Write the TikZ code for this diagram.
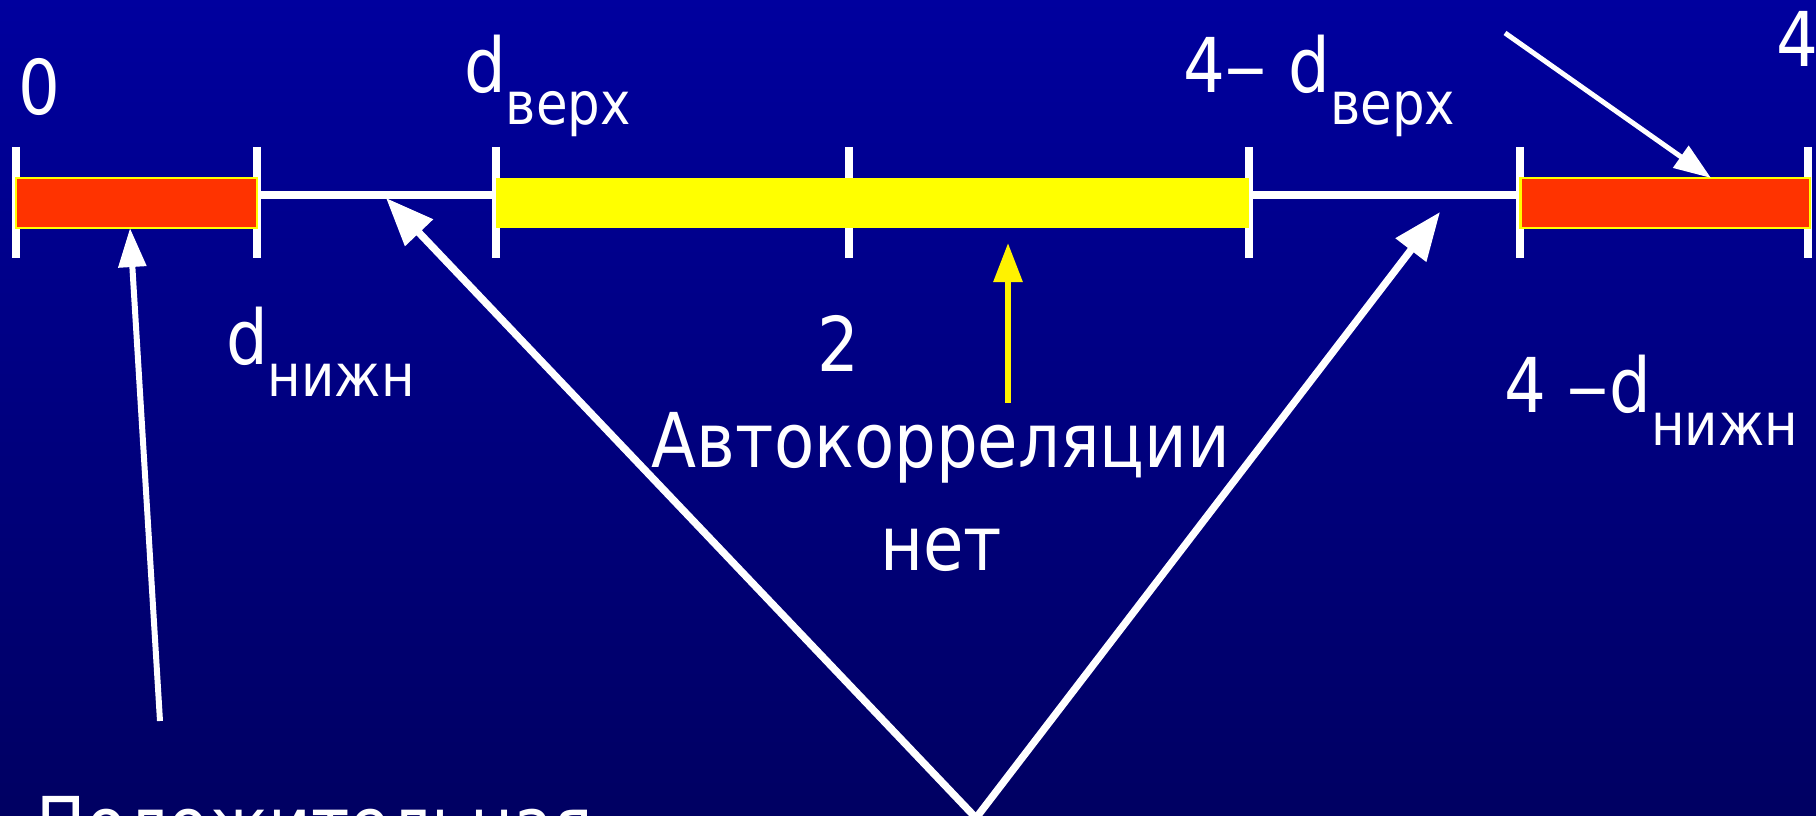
\documentclass[tikz,border=0pt]{standalone}
\usepackage{fontspec}
\setmainfont{DejaVu Sans}[FakeStretch=0.87]
\usetikzlibrary{arrows.meta}
\definecolor{slidetop}{RGB}{0,0,158}
\definecolor{slidebot}{RGB}{0,0,98}
\newcommand{\lowtxt}[1]{\raisebox{-9.1pt}{\fontsize{16.8}{18}\selectfont #1}}
\newcommand{\longdash}{\scalebox{1.3}[1]{–}}
\begin{document}
\begin{tikzpicture}[x=0.01cm,y=-0.01cm,every node/.style={inner sep=0pt, outer sep=0pt, text=white, font=\fontsize{21.5}{29.3}\selectfont},
  tickmark/.style={draw=white, line width=2.28pt},
  bar/.style={minimum height=0.5cm, anchor=center},
  arrw/.style={draw=white}]
\useasboundingbox (0,0) rectangle (1816,816);
\shade[top color=slidetop, bottom color=slidebot] (0,0) rectangle (1816,816);
\draw[white, line width=2.28pt] (16,195) -- (1808,195);
\draw[tickmark] (16,147) -- (16,258);
\draw[tickmark] (257,147) -- (257,258);
\draw[tickmark] (496,147) -- (496,258);
\draw[tickmark] (849,147) -- (849,258);
\draw[tickmark] (1249,147) -- (1249,258);
\draw[tickmark] (1520,147) -- (1520,258);
\draw[tickmark] (1808,147) -- (1808,258);
\node[bar, fill={rgb,255:red,255;green,51;blue,0}, draw={rgb,255:red,255;green,255;blue,0}, line width=0.6pt, minimum width=2.41cm] (redlow) at (136.5,203) {};
\node[bar, fill={rgb,255:red,255;green,255;blue,0}, minimum width=7.53cm] (yellowmid) at (872.5,203) {};
\node[bar, fill={rgb,255:red,255;green,51;blue,0}, draw={rgb,255:red,255;green,255;blue,0}, line width=0.6pt, minimum width=2.89cm] (redhigh) at (1665,203) {};
\node[anchor=base] (zero) at (39,115) {0};
\node[anchor=base west] (dup) at (464,93) {d\lowtxt{верх}};
\node[anchor=base west] (fourdup) at (1183,93) {4\longdash{} d\lowtxt{верх}};
\node[anchor=base west] (four) at (1776,67) {4};
\node[anchor=base west] (dlow) at (226,365) {d\lowtxt{нижн}};
\node[anchor=base] (two) at (838,372) {2};
\node[anchor=base west] (fourdlow) at (1504,413) {4 \longdash{}d\lowtxt{нижн}};
\node[anchor=north, align=center] (noauto) at (941,412) {Автокорреляции\\нет};
\node[anchor=base west] (posauto) at (37,851) {Положительная};
\coordinate (postail) at (160,721);
\coordinate (postip) at (130,228);
\coordinate (vbottom) at (976,818);
\coordinate (gaplow) at (386,198);
\coordinate (gaphigh) at (1440,212);
\coordinate (toptail) at (1505,33);
\coordinate (toptip) at (1711,178);
\coordinate (ytail) at (1008,403);
\coordinate (ytip) at (1008,243);
\draw[arrw, line width=1.7pt, -{Triangle[length=0.39cm,width=0.27cm]}] (postail) -- (postip);
\draw[arrw, line width=2.1pt, -{Triangle[length=0.48cm,width=0.37cm]}] (vbottom) -- (gaplow);
\draw[arrw, line width=2.1pt, -{Triangle[length=0.48cm,width=0.37cm]}] (vbottom) -- (gaphigh);
\draw[arrw, line width=1.42pt, -{Triangle[length=0.37cm,width=0.26cm]}] (toptail) -- (toptip);
\draw[draw=yellow, line width=1.7pt, -{Triangle[length=0.39cm,width=0.28cm]}] (ytail) -- (ytip);
\end{tikzpicture}
\end{document}
